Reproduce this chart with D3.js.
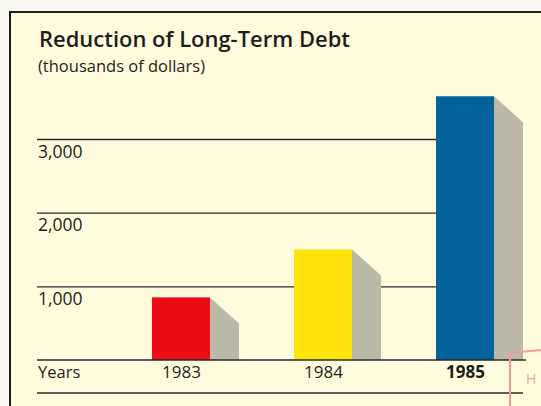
<!DOCTYPE html>
<html>
<head>
<meta charset="utf-8">
<script src="https://cdn.jsdelivr.net/npm/d3@7"></script>
<style>
  html, body { margin: 0; padding: 0; background: #f9f8f2; }
  svg { display: block; }
  text { font-family: "Open Sans", sans-serif; fill: #1e1e1e; }
</style>
</head>
<body>
<div id="chart"></div>
<script>
// values (thousands of dollars)
const years = ['1983', '1984', '1985']
const reductions = [850, 1500, 3580]
const barColors = ['#ec0c14', '#ffe30a', '#04629a']
const tickValues = [1000, 2000, 3000]

const width = 541, height = 406
const left = 37, baseY = 360, topY = 139
const barW = 58, depth = 29, drop = 26

const y = d3.scaleLinear().domain([0, 3000]).range([baseY, topY])
const x = d3.scalePoint().domain(years).range([181, 465])

const svg = d3.select('#chart')
  .append('svg')
  .attr('width', width)
  .attr('height', height)

// frame + paper
svg.append('rect')
  .attr('x', 10).attr('y', 12)
  .attr('width', width).attr('height', height)
  .attr('fill', '#fefcdd')
  .attr('stroke', '#1c1c1c')
  .attr('stroke-width', 2)

svg.append('text')
  .attr('x', 39).attr('y', 47)
  .style('font-size', '21px')
  .style('font-weight', 600)
  .attr('textLength', 311)
  .attr('lengthAdjust', 'spacingAndGlyphs')
  .text('Reduction of Long-Term Debt')

svg.append('text')
  .attr('x', 38).attr('y', 72)
  .style('font-size', '15.5px')
  .attr('textLength', 167)
  .attr('lengthAdjust', 'spacingAndGlyphs')
  .text('(thousands of dollars)')

// grid lines run to the tallest bar
const gridLen = x('1985') - barW / 2 - left
const yAxis = d3.axisRight(y)
  .tickValues(tickValues)
  .tickSize(gridLen)
  .tickFormat(d3.format(','))

const gy = svg.append('g')
  .attr('transform', `translate(${left},0)`)
  .call(yAxis)
gy.select('.domain').remove()
gy.selectAll('line').attr('stroke', '#2a2a2a').attr('stroke-width', 1.4)
gy.selectAll('text')
  .attr('x', 1).attr('dy', 18)
  .attr('text-anchor', 'start')
  .style('font-size', '17.5px')
  .style('font-family', '"Open Sans", sans-serif')
  .attr('fill', '#1e1e1e')

// bars with grey shadow side
const bars = svg.append('g').selectAll('g')
  .data(years)
  .enter()
  .append('g')

bars.append('path')
  .attr('d', (d, i) => {
    const x1 = x(d) + barW / 2, t = y(reductions[i])
    return `M${x1},${t} L${x1 + depth},${t + drop} L${x1 + depth},${baseY} L${x1},${baseY} Z`
  })
  .attr('fill', '#bdb9a9')

bars.append('rect')
  .attr('x', d => x(d) - barW / 2)
  .attr('y', (d, i) => y(reductions[i]))
  .attr('width', barW)
  .attr('height', (d, i) => baseY - y(reductions[i]))
  .attr('fill', (d, i) => barColors[i])

// base line and bottom rule
svg.append('line')
  .attr('x1', left).attr('x2', 526)
  .attr('y1', baseY).attr('y2', baseY)
  .attr('stroke', '#2a2a2a').attr('stroke-width', 1.4)

svg.append('line')
  .attr('x1', left).attr('x2', 523)
  .attr('y1', 393).attr('y2', 393)
  .attr('stroke', '#2a2a2a').attr('stroke-width', 1.4)

const xAxis = d3.axisBottom(x).tickSize(0)
const gx = svg.append('g')
  .call(xAxis)
gx.select('.domain').remove()
gx.selectAll('text')
  .attr('y', 378).attr('dy', 0)
  .style('font-size', '17px')
  .style('font-family', '"Open Sans", sans-serif')
  .style('font-weight', d => d === '1985' ? 700 : 400)
  .attr('fill', '#1e1e1e')

svg.append('text')
  .attr('x', 38).attr('y', 378)
  .style('font-size', '16.5px')
  .text('Years')

// red stamp edge in the corner of the scan
svg.append('path')
  .attr('d', 'M510,406 L510,353 L541,350')
  .attr('fill', 'none')
  .attr('stroke', '#f39aa6')
  .attr('stroke-width', 2)
svg.append('text')
  .attr('x', 526).attr('y', 384)
  .style('font-size', '14px')
  .style('fill', '#f3a0aa')
  .text('H')
</script>
</body>
</html>
